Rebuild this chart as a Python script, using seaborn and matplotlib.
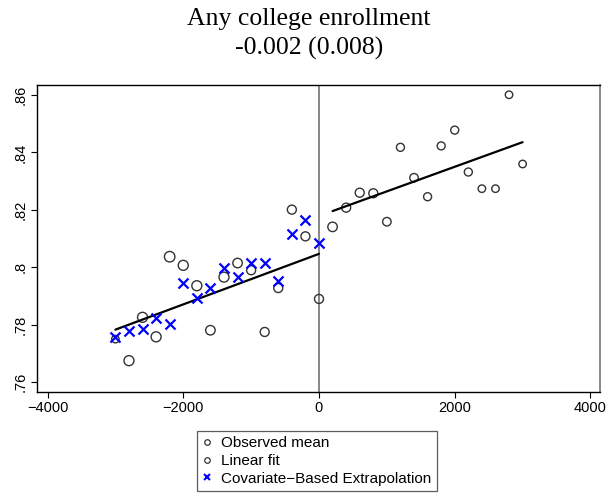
import matplotlib
matplotlib.use("Agg")
import matplotlib.pyplot as plt
import seaborn as sns
import pandas as pd
from matplotlib.lines import Line2D

# ---------------- data ----------------
title_main = "Any college enrollment"
title_sub = "-0.002 (0.008)"

bins = [-3000, -2800, -2600, -2400, -2200, -2000, -1800, -1600, -1400, -1200,
        -1000, -800, -600, -400, -200, 0,
        200, 400, 600, 800, 1000, 1200, 1400, 1600, 1800, 2000,
        2200, 2400, 2600, 2800, 3000]
obs_mean = [0.7750, 0.7675, 0.7826, 0.7758, 0.8037, 0.8007, 0.7936, 0.7781,
            0.7966, 0.8015, 0.7990, 0.7775, 0.7928, 0.8201, 0.8108, 0.7890,
            0.8141, 0.8208, 0.8260, 0.8258, 0.8159, 0.8418, 0.8312, 0.8246,
            0.8423, 0.8478, 0.8332, 0.8274, 0.8274, 0.8601, 0.8360]
bin_weight = [56, 100, 100, 100, 110, 100, 100, 90, 100, 90, 81, 81, 81, 81, 81, 81,
              90, 81, 81, 81, 72, 64, 72, 64, 64, 64, 64, 56, 56, 56, 56]

extrap_x = [-3000, -2800, -2600, -2400, -2200, -2000, -1800, -1600, -1400, -1200,
            -1000, -800, -600, -400, -200, 0]
extrap_y = [0.7757, 0.7779, 0.7785, 0.7824, 0.7802, 0.7947, 0.7892, 0.7927,
            0.7999, 0.7967, 0.8016, 0.8014, 0.7953, 0.8116, 0.8166, 0.8085]

fit_left_x = [-3000, 0]
fit_left_y = [0.7783, 0.8047]
fit_right_x = [200, 3000]
fit_right_y = [0.8196, 0.8436]

cutoff = 0

xticks = [-4000, -2000, 0, 2000, 4000]
xtick_labels = ["\u22124000", "\u22122000", "0", "2000", "4000"]
yticks = [0.76, 0.78, 0.80, 0.82, 0.84, 0.86]
ytick_labels = [".76", ".78", ".8", ".82", ".84", ".86"]

legend_labels = ["Observed mean", "Linear fit", "Covariate\u2212Based Extrapolation"]

# ---------------- plot ----------------
sns.set_style("white")
plt.rcParams["font.family"] = ["Liberation Sans", "DejaVu Sans"]
plt.rcParams["text.color"] = "black"
plt.rcParams["xtick.color"] = "black"
plt.rcParams["ytick.color"] = "black"
plt.rcParams["axes.labelcolor"] = "black"

obs_df = pd.DataFrame({"x": bins, "y": obs_mean, "w": bin_weight})
ext_df = pd.DataFrame({"x": extrap_x, "y": extrap_y})
fitL = pd.DataFrame({"x": fit_left_x, "y": fit_left_y})
fitR = pd.DataFrame({"x": fit_right_x, "y": fit_right_y})

fig = plt.figure(figsize=(6.09, 5.01), dpi=100)
ax = fig.add_axes([0.0613, 0.2182, 0.9239, 0.6121])

ax.axvline(cutoff, color="#666666", lw=1.1, zorder=1)

area_scale = 0.5184  # px^2 -> pt^2
wmin, wmax = min(bin_weight), max(bin_weight)
sns.scatterplot(data=obs_df, x="x", y="y", size="w",
                sizes=(wmin * area_scale, wmax * area_scale), size_norm=(wmin, wmax),
                marker="o", facecolor="none", edgecolor="#333333", linewidth=1.0,
                legend=False, ax=ax, zorder=3)
sns.lineplot(data=fitL, x="x", y="y", color="black", lw=1.6, ax=ax, zorder=4)
sns.lineplot(data=fitR, x="x", y="y", color="black", lw=1.6, ax=ax, zorder=4)
sns.scatterplot(data=ext_df, x="x", y="y", marker="x", color="#0000ff", s=52,
                linewidth=1.6, legend=False, ax=ax, zorder=5)

ax.set_xlim(-4150, 4140)
ax.set_ylim(0.7567, 0.8635)
ax.set_xticks(xticks)
ax.set_xticklabels(xtick_labels)
ax.set_yticks(yticks)
ax.set_yticklabels(ytick_labels, rotation=90, va="center")
ax.set_xlabel("")
ax.set_ylabel("")
ax.tick_params(axis="both", direction="out", length=4, width=0.8, color="black",
               labelcolor="black", labelsize=10.5, pad=3, bottom=True, left=True)

for side in ["left", "bottom", "top"]:
    ax.spines[side].set_color("black")
    ax.spines[side].set_linewidth(1.0)
ax.spines["right"].set_color("#777777")
ax.spines["right"].set_linewidth(1.2)

fig.text(0.507, 1 - 25 / 501, title_main, ha="center", va="baseline",
         family="Liberation Serif", fontsize=18.5, color="black")
fig.text(0.507, 1 - 55 / 501, title_sub, ha="center", va="baseline",
         family="Liberation Serif", fontsize=18.5, color="black")

handles = [
    Line2D([], [], marker="o", ls="none", mfc="none", mec="#333333", ms=4, mew=0.9),
    Line2D([], [], marker="o", ls="none", mfc="none", mec="#333333", ms=4, mew=0.9),
    Line2D([], [], marker="x", ls="none", color="#0000ff", ms=4.5, mew=1.5),
]
leg = fig.legend(handles, legend_labels, loc="center",
                 bbox_to_anchor=(317 / 609, 1 - 461 / 501),
                 fontsize=11, frameon=True, fancybox=False, edgecolor="#333333",
                 handlelength=0.6, handletextpad=0.6, labelspacing=0.25,
                 borderpad=0.35, borderaxespad=0, labelcolor="black")
leg.get_frame().set_linewidth(0.9)

fig.savefig("out.png", dpi=100)
